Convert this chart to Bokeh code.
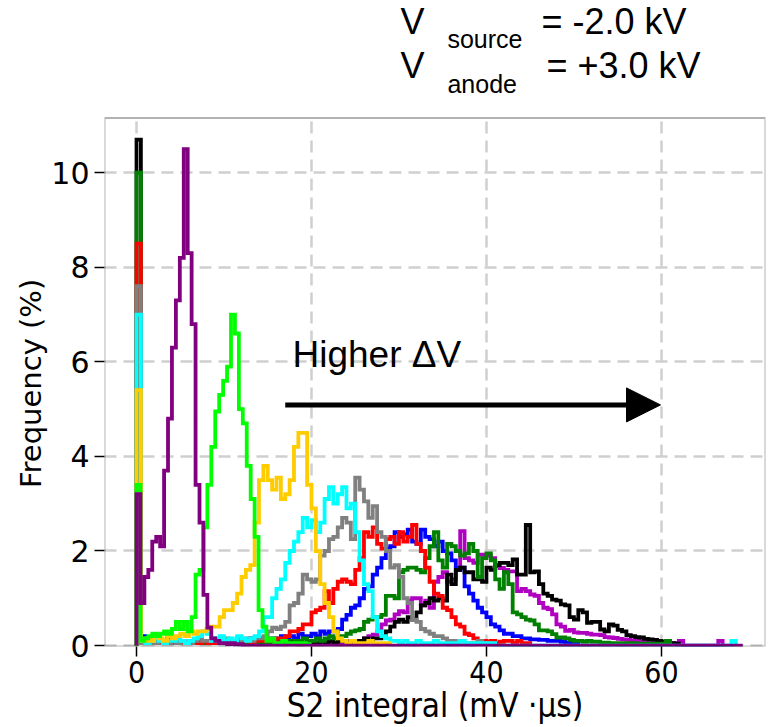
import numpy as np
from bokeh.plotting import figure
from bokeh.models import Range1d, FixedTicker, Label, Arrow, NormalHead, BoxAnnotation
from bokeh.embed import file_html
from bokeh.resources import INLINE

# ---------------- data (frequency in %, bins start at 0) ----------------
x_ticks = [0, 20, 40, 60]
y_ticks = [0, 2, 4, 6, 8, 10]

purple_w = 0.45
purple = [3.2, 0.9, 1.45, 1.6, 2.2, 2.3, 2.1, 3.7, 4.8, 6.3, 7.3, 8.2, 10.5, 8.3, 6.8,
          3.4, 2.6, 1.07, 0.38, 0.15, 0.1, 0.05, 0.05, 0.03, 0.05, 0.02, 0.03]
purple_end = 69.2

lime_w = 0.45
lime = [3.4, 0.1, 0.15, 0.2, 0.25, 0.2, 0.25, 0.3, 0.25, 0.35, 0.5, 0.35, 0.5, 0.3, 0.6,
        1.5, 1.6, 2.5, 3.4, 4.2, 4.95, 5.3, 5.6, 5.9, 7.0, 6.6, 5.0, 4.7, 3.8, 3.1, 2.3,
        0.75, 0.4, 0.1, 0.15, 0.05, 0.05, 0.1, 0.05, 0.03, 0.05, 0.02, 0.05, 0.03]

bin_w = 0.5
gold = [5.4,
        0.1, 0.15, 0.1, 0.2, 0.15, 0.1, 0.2, 0.15, 0.2, 0.25, 0.2, 0.3, 0.25, 0.3,
        0.3, 0.35, 0.4, 0.4, 0.6, 0.75, 0.75, 0.9, 1.1, 1.45, 1.6, 1.7, 2.6, 3.5, 3.8,
        3.5, 3.3, 3.55, 3.1, 3.2, 3.5, 4.2, 4.5, 4.5, 3.4, 2.9, 2.0, 1.3, 0.9, 0.6, 0.3,
        0.15, 0.1, 0.05, 0.1, 0.05, 0.05, 0.05, 0.1, 0.05, 0.05, 0.05, 0.05]

cyan = [7.0,
        0.1, 0.05, 0.1, 0.15, 0.1, 0.05, 0.1, 0.1, 0.15, 0.1, 0.05, 0.1, 0.15, 0.2, 0.3,
        0.25, 0.1, 0.15, 0.2, 0.1, 0.15, 0.1, 0.2, 0.15, 0.1, 0.15, 0.2,
        0.3, 0.6, 0.6, 1.0, 1.2, 1.4, 1.75, 2.0, 2.2, 2.4, 2.7, 2.5, 2.65, 2.4, 2.6, 3.1,
        3.35, 3.0, 3.2, 3.35, 2.9, 3.0, 2.4, 1.8, 1.3, 1.15, 0.6, 0.3, 0.2, 0.15, 0.1,
        0.1, 0.05, 0.1, 0.05, 0.05, 0.1, 0.05, 0.05, 0.05, 0.1, 0.05, 0.05, 0.05, 0.05,
        0.05, 0.1, 0.05, 0.05, 0.05, 0.05, 0.05, 0.05, 0.05]
cyan_extra = [(68.0, 0.1)]

gray = [7.6,
        0.05, 0.1, 0.05, 0.05, 0.1, 0.05, 0.05, 0.1, 0.05, 0.1, 0.1, 0.05, 0.1, 0.15,
        0.1, 0.1, 0.15, 0.1, 0.1, 0.15, 0.1, 0.1, 0.15, 0.1, 0.15, 0.1, 0.15,
        0.15, 0.2, 0.3, 0.38, 0.35, 0.4, 0.5, 0.85, 0.9, 1.1, 1.5, 1.4, 1.35, 1.4, 1.9,
        2.0, 2.25, 2.3, 2.5, 2.7, 2.6, 2.25, 3.55, 3.3, 3.05, 2.7, 2.95, 2.4, 2.3, 2.0,
        1.65, 1.7, 1.45, 1.0, 0.9, 0.55, 0.5, 0.35, 0.3, 0.25, 0.2, 0.2, 0.15, 0.1, 0.1,
        0.05, 0.1, 0.05, 0.05, 0.05, 0.1, 0.05, 0.05]

red = [8.5,
       0.05, 0.1, 0.05, 0.05, 0.05, 0.1, 0.05, 0.05, 0.1, 0.05, 0.05, 0.05, 0.1, 0.05,
       0.1, 0.05, 0.05, 0.1, 0.05, 0.1, 0.05, 0.1, 0.05, 0.1, 0.1, 0.05, 0.1, 0.1, 0.15,
       0.1, 0.1, 0.15,
       0.15, 0.2, 0.3, 0.3, 0.35, 0.45, 0.45, 0.7, 0.75, 0.8, 1.15, 0.9, 1.2, 1.35, 1.4,
       1.35, 1.3, 1.6, 1.85, 2.4, 2.3, 2.5, 2.15, 2.05, 2.25, 2.3, 2.15, 2.4, 2.2, 2.3,
       2.55, 2.15, 2.0, 1.65, 1.35, 1.1, 1.05, 0.8, 0.75, 0.6, 0.45, 0.4, 0.25, 0.22,
       0.15, 0.1, 0.1, 0.08, 0.1, 0.05, 0.08, 0.1, 0.1, 0.05, 0.1, 0.05, 0.05]

blue = [3.1,
        0.2, 0.15, 0.1, 0.15, 0.1, 0.1, 0.15, 0.1, 0.1, 0.05,
        0.1, 0.05, 0.1, 0.1, 0.05, 0.1, 0.05, 0.1, 0.1, 0.05,
        0.1, 0.1, 0.05, 0.1, 0.1, 0.15, 0.1, 0.1, 0.15, 0.1,
        0.15, 0.1, 0.2, 0.15, 0.2, 0.15, 0.25, 0.2, 0.2, 0.25,
        0.2, 0.3, 0.25,
        0.3, 0.3, 0.35, 0.55, 0.65, 0.8, 0.85, 1.0, 1.2, 1.25, 1.5, 1.65, 1.85, 2.05,
        2.1, 2.4, 2.3, 2.35, 2.45, 2.2, 2.15, 2.45, 2.3, 2.25, 2.1, 2.2, 2.0, 1.95, 1.8,
        1.6, 1.65, 1.25, 1.1, 0.95, 0.8, 0.7, 0.6, 0.45, 0.4, 0.32, 0.25, 0.25, 0.2, 0.2,
        0.15, 0.15, 0.13, 0.13, 0.12, 0.12, 0.1, 0.1, 0.1, 0.08, 0.06, 0.05, 0.05]

green = [10.0,
         0.05, 0.1, 0.05, 0.05, 0.1, 0.05, 0.05, 0.05, 0.1, 0.05,
         0.05, 0.1, 0.05, 0.05, 0.05, 0.1, 0.05, 0.05, 0.1, 0.05,
         0.05, 0.05, 0.1, 0.05, 0.05, 0.1, 0.05, 0.1, 0.05, 0.05,
         0.1, 0.05, 0.1, 0.1, 0.05, 0.1, 0.1, 0.15, 0.1, 0.1,
         0.15, 0.1, 0.15, 0.2, 0.15, 0.2, 0.2,
         0.25, 0.3, 0.32, 0.35, 0.5, 0.55, 0.6, 0.6, 0.65, 1.05, 1.05, 1.0, 1.55, 1.6,
         1.65, 1.65, 1.6, 1.55, 1.85, 2.1, 2.4, 1.8, 1.65, 2.15, 2.1, 2.0, 1.9, 1.95,
         2.15, 2.0, 1.45, 1.85, 1.95, 1.8, 1.4, 1.2, 1.55, 1.3, 0.7, 0.66, 0.6, 0.55,
         0.53, 0.45, 0.32, 0.32, 0.3, 0.24, 0.17, 0.17, 0.15, 0.12,
         0.1, 0.1, 0.08, 0.1, 0.08, 0.08, 0.06, 0.06, 0.05, 0.05, 0.05, 0.05, 0.05, 0.05,
         0.04, 0.04, 0.04, 0.04, 0.04, 0.04, 0.04, 0.1]

magenta = [1.5,
           0.05, 0.05, 0.05, 0.05, 0.1, 0.05, 0.05, 0.05, 0.05, 0.05,
           0.05, 0.05, 0.05, 0.1, 0.05, 0.05, 0.05, 0.05, 0.05, 0.05,
           0.05, 0.05, 0.05, 0.05, 0.05, 0.1, 0.05, 0.05, 0.05, 0.05,
           0.05, 0.05, 0.1, 0.05, 0.05, 0.05, 0.05, 0.05, 0.1, 0.05,
           0.05, 0.05, 0.05, 0.1, 0.05, 0.05, 0.1, 0.05, 0.1, 0.1, 0.1,
           0.15, 0.2, 0.23, 0.3, 0.45, 0.53, 0.55, 0.66, 0.73, 0.7, 0.95, 1.0, 1.0, 0.85,
           0.95, 0.8, 1.35, 1.45, 1.55, 1.35, 1.4, 1.64, 2.42, 1.85, 1.8, 1.75, 1.92, 1.92,
           1.9, 1.85, 1.68, 1.64, 1.6, 1.57, 1.57, 1.15, 1.2, 1.15, 1.08, 1.05, 0.9, 0.8,
           0.77, 0.66, 0.45, 0.4, 0.31, 0.33, 0.28, 0.27, 0.27, 0.25, 0.23, 0.23, 0.22,
           0.18, 0.17, 0.16, 0.14, 0.13, 0.12, 0.1, 0.1, 0.08,
           0.06, 0.05, 0.05, 0.05, 0.05, 0.05, 0.05, 0.05]
magenta_extra = [(62.0, 0.1), (66.5, 0.1)]

black = [10.7,
         0.05, 0.05, 0.1, 0.05, 0.05, 0.05, 0.05, 0.1, 0.05, 0.05,
         0.05, 0.05, 0.05, 0.1, 0.05, 0.05, 0.05, 0.05, 0.05, 0.05,
         0.05, 0.05, 0.1, 0.05, 0.05, 0.05, 0.05, 0.05, 0.1, 0.05,
         0.05, 0.05, 0.05, 0.05, 0.1, 0.05, 0.05, 0.05, 0.1, 0.05,
         0.05, 0.1, 0.05, 0.1, 0.05, 0.1, 0.1, 0.05, 0.1, 0.1,
         0.1, 0.15, 0.1, 0.15, 0.15,
         0.2, 0.3, 0.4, 0.5, 0.55, 0.5, 0.6, 0.55, 0.7, 0.85, 0.9, 1.0, 0.95, 1.0, 0.95,
         1.5, 1.3, 1.6, 1.65, 1.55, 1.55, 1.4, 1.4, 1.35, 1.65, 1.6, 1.7, 1.75, 1.75, 1.7,
         1.82, 1.5, 1.5, 2.55, 1.55, 1.57, 1.3, 1.1, 1.05, 0.97, 0.95, 0.87, 0.85, 0.6,
         0.55, 0.75, 0.7, 0.48, 0.5, 0.5, 0.34, 0.3, 0.45, 0.42, 0.33, 0.3, 0.22, 0.2,
         0.18, 0.17, 0.14, 0.13, 0.12, 0.1, 0.08, 0.06, 0.05, 0.04]

# drawing order (last drawn on top)
series = [
    ("magenta", magenta, bin_w, magenta_extra, None, "#B000C0"),
    ("blue", blue, bin_w, [], None, "#0000FF"),
    ("black", black, bin_w, [], None, "#000000"),
    ("green", green, bin_w, [], None, "#008000"),
    ("red", red, bin_w, [], None, "#FF0000"),
    ("gray", gray, bin_w, [], None, "#808080"),
    ("cyan", cyan, bin_w, cyan_extra, None, "#00FFFF"),
    ("gold", gold, bin_w, [], None, "#FFCC00"),
    ("lime", lime, lime_w, [], None, "#00FF00"),
    ("purple", purple, purple_w, [], purple_end, "#800080"),
]

# plotted y extent of the axes box, and the taller range that leaves room for the header
Y_MIN, Y_BOX_TOP, Y_CANVAS_TOP = -0.02, 11.16, 13.643
X_MIN, X_MAX = -3.66, 71.9


def outline(vals, w, extras=(), end=None):
    full = list(vals)
    for start, v in extras:
        k = int(round(start / w))
        while len(full) <= k:
            full.append(0.0)
        full[k] = v
    if end is not None:
        k_end = int(round(end / w))
        while len(full) < k_end:
            full.append(0.0)
    edges = np.arange(len(full) + 1) * w
    xs = [edges[0]]
    ys = [0.0]
    for i, v in enumerate(full):
        xs += [edges[i], edges[i + 1]]
        ys += [v, v]
    xs.append(edges[-1])
    ys.append(0.0)
    return xs, ys


p = figure(width=773, height=727, output_backend="svg", toolbar_location=None,
           x_range=Range1d(X_MIN, X_MAX), y_range=Range1d(Y_MIN, Y_CANVAS_TOP),
           min_border_left=104, min_border_right=8, min_border_top=0,
           min_border_bottom=78)
p.title.visible = False
p.background_fill_color = "white"
p.border_fill_color = "white"
p.outline_line_color = None

for name, vals, w, extras, end, col in series:
    xs, ys = outline(vals, w, extras, end)
    p.line(xs, ys, line_color=col, line_width=3.8, line_join="miter")

# grid
p.xgrid.ticker = FixedTicker(ticks=x_ticks)
p.ygrid.ticker = FixedTicker(ticks=y_ticks)
p.grid.grid_line_color = "#cfcfcf"
p.grid.grid_line_width = 2.5
p.grid.grid_line_dash = "12 7"
p.grid.level = "underlay"

# white header area above the axes box, then the box itself
p.add_layout(BoxAnnotation(bottom=Y_BOX_TOP, fill_color="white", fill_alpha=1.0,
                           line_alpha=0.0, level="annotation"))
p.add_layout(BoxAnnotation(top=Y_BOX_TOP, bottom=Y_MIN, left=X_MIN, right=X_MAX,
                           fill_alpha=0.0, line_color="black", line_width=2,
                           level="annotation"))

# axes
for ax in (p.xaxis[0], p.yaxis[0]):
    ax.axis_line_color = None
    ax.major_tick_line_width = 1.5
    ax.major_tick_out = 10
    ax.major_tick_in = 0
    ax.minor_tick_line_color = None
    ax.major_label_text_color = "black"
    ax.axis_label_text_color = "black"
    ax.axis_label_text_font_style = "normal"

p.xaxis.ticker = FixedTicker(ticks=x_ticks)
p.yaxis.ticker = FixedTicker(ticks=y_ticks)
p.yaxis.bounds = (Y_MIN, Y_BOX_TOP)
p.xaxis.axis_label = "S2 integral (mV \u00b7\u03bcs)"
# trailing no-break spaces keep the rotated label centred on the axes box, not the canvas
p.yaxis.axis_label = "Frequency (%)" + "\u00a0" * 13
p.xaxis.major_label_text_font = "DejaVu Sans Condensed"
p.xaxis.major_label_text_font_size = "30px"
p.xaxis.axis_label_text_font = "DejaVu Sans Condensed"
p.xaxis.axis_label_text_font_size = "33px"
p.xaxis.axis_label_standoff = 0
p.xaxis.major_label_standoff = 4
p.yaxis.major_label_text_font = "DejaVu Sans"
p.yaxis.major_label_text_font_size = "30px"
p.yaxis.axis_label_text_font = "DejaVu Sans"
p.yaxis.axis_label_text_font_size = "29px"
p.yaxis.axis_label_standoff = 0
p.yaxis.major_label_standoff = 5

# header: V_source / V_anode (data positions chosen to sit above the axes box)
head_font = "Liberation Sans"
head_texts = [
    ("V", 30.17, 13.20, "36px"),
    ("source", 35.54, 12.833, "25px"),
    ("= -2.0 kV", 46.29, 13.20, "36px"),
    ("V", 30.17, 12.275, "36px"),
    ("anode", 35.54, 11.885, "25px"),
    ("= +3.0 kV", 46.86, 12.275, "36px"),
]
for t, x, y, fs in head_texts:
    p.add_layout(Label(x=x, y=y, text=t, text_font=head_font, text_font_size=fs,
                       text_color="black", text_baseline="alphabetic",
                       text_align="left"))

p.add_layout(Label(x=17.83, y=6.15, text="Higher \u0394V", text_font="Liberation Sans",
                   text_font_size="37px", text_color="black",
                   text_baseline="alphabetic", text_align="left"))

p.add_layout(Arrow(end=NormalHead(size=34, fill_color="black", line_color="black",
                                  line_width=1),
                   x_start=17.0, y_start=5.09, x_end=59.9, y_end=5.09,
                   line_width=5, line_color="black"))

open("out.html", "w").write(file_html(p, INLINE))
